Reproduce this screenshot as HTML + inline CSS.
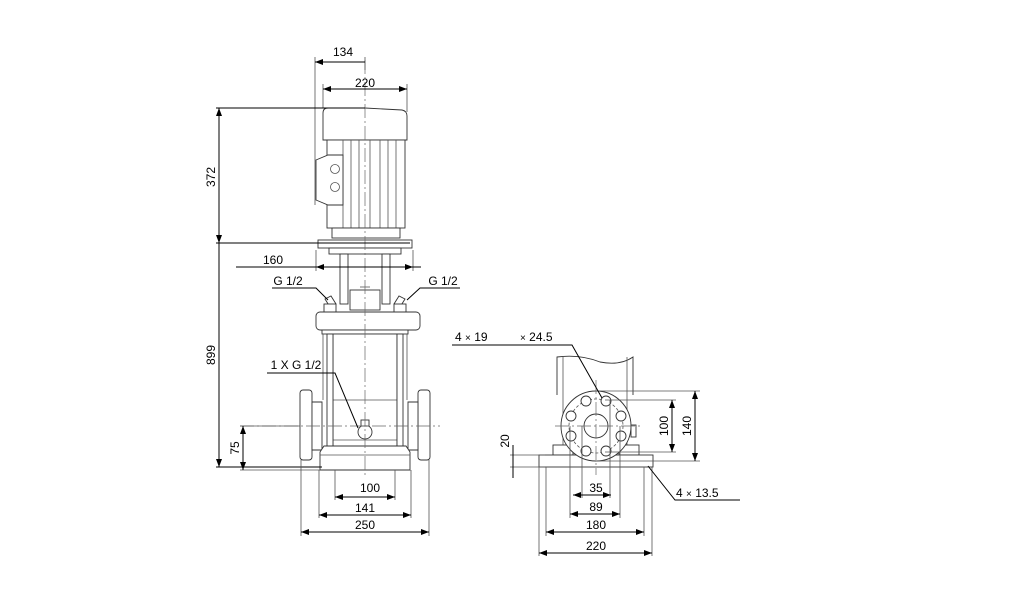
<!DOCTYPE html>
<html><head><meta charset="utf-8"><style>
html,body{margin:0;padding:0;background:#fff;}
svg{display:block;}
text{font-family:"Liberation Sans",Arial,sans-serif;font-size:12px;fill:#000;}
.l{stroke:#000;stroke-width:1;fill:none;}
.g{stroke:#555;stroke-width:0.8;fill:none;}
.p{stroke:#333;stroke-width:0.9;fill:#fff;}
.c{stroke:#666;stroke-width:0.7;fill:none;stroke-dasharray:14 3 2 3;}
</style></head><body>
<svg width="1034" height="611" viewBox="0 0 1034 611" xmlns="http://www.w3.org/2000/svg">
<defs>
<marker id="a" viewBox="0 0 8 6" refX="8" refY="3" markerWidth="8" markerHeight="6" orient="auto-start-reverse"><path d="M0,0L8,3L0,6z" fill="#000"/></marker>
</defs>

<!-- LEFT VIEW -->
<!-- motor -->
<path class="p" d="M323,113 Q323,108 328,108 L365,108 L402,110 Q407,111 407,116 L407,140 L323,140 Z"/>
<rect class="p" x="327" y="140" width="78" height="88"/>
<path class="g" d="M343,140V228 M351,140V228 M359,140V228 M370,140V228 M380,140V228 M388,140V228 M396,140V228"/>
<path class="p" d="M316,160 L328,155 L343,155 L343,205 L328,205 L316,200 Z"/>
<circle class="g" cx="335" cy="169" r="4.5"/><circle class="g" cx="335" cy="187" r="4.5"/>
<rect class="p" x="332" y="228" width="68" height="10"/>
<rect class="p" x="318" y="240" width="94" height="8"/>
<rect class="p" x="329" y="248" width="72" height="6"/>
<!-- coupling area -->
<rect class="p" x="340" y="254" width="8" height="50"/>
<rect class="p" x="382" y="254" width="8" height="50"/>
<rect class="p" x="350" y="290" width="30" height="20"/>
<path class="g" d="M360,287 h10"/>
<!-- valves -->
<path class="p" d="M325,299 l6,-3 l5,8 l-6,3z"/><path class="p" d="M405,299 l-6,-3 l-5,8 l6,3z"/>
<rect class="p" x="324" y="304" width="12" height="8"/><rect class="p" x="394" y="304" width="12" height="8"/>
<!-- head -->
<rect class="p" x="316" y="312" width="104" height="18" rx="4"/>
<rect class="p" x="322" y="330" width="86" height="4"/>
<!-- sleeve -->
<rect class="p" x="333" y="334" width="64" height="112"/>
<path class="g" d="M333,400 H397 M333,440 H397"/>
<rect class="p" x="327" y="334" width="6" height="112"/>
<rect class="p" x="397" y="334" width="6" height="112"/>
<path class="g" d="M323,334 V400 M407,334 V400"/>
<!-- flanges -->
<rect class="p" x="300" y="390" width="12" height="70" rx="3"/>
<path class="p" d="M312,402 H322 V450 H312 Z"/>
<rect class="p" x="418" y="390" width="12" height="70" rx="3"/>
<path class="p" d="M408,402 H418 V450 H408 Z"/>
<!-- base -->
<path class="p" d="M324,446 H406 L410,452 V470 H320 V452 Z"/>
<path class="g" d="M320,455 H410"/>
<circle class="p" cx="365" cy="432" r="7"/>
<rect class="p" x="361" y="420" width="8" height="6"/>
<!-- centerlines -->
<path class="c" d="M365,60 V475"/>
<path class="c" d="M240,426 H440"/>

<!-- dims left -->
<path class="g" d="M315,57 V205 M365,57 V70"/>
<path class="l" d="M315,62 H365" marker-start="url(#a)"/>
<text x="343" y="56" text-anchor="middle">134</text>
<path class="g" d="M323,84 V108 M407,84 V112"/>
<path class="l" d="M323,89 H407" marker-start="url(#a)" marker-end="url(#a)"/>
<text x="365" y="87" text-anchor="middle">220</text>
<path class="l" d="M216,108 H365 M216,243 H410 M216,467 H322"/>
<path class="l" d="M219,108 V243" marker-start="url(#a)" marker-end="url(#a)"/>
<path class="l" d="M219,243 V467" marker-end="url(#a)"/>
<text transform="translate(215,177) rotate(-90)" text-anchor="middle">372</text>
<text transform="translate(215,355) rotate(-90)" text-anchor="middle">899</text>
<path class="g" d="M316,250 V271 M413,250 V271"/>
<path class="l" d="M236,267 H421"/><path class="l" d="M316,267 H413" marker-start="url(#a)" marker-end="url(#a)"/>
<text x="273" y="264" text-anchor="middle">160</text>
<text x="288" y="285" text-anchor="middle">G 1/2</text>
<path class="l" d="M272,288 H316 L328,300"/>
<text x="443" y="285" text-anchor="middle">G 1/2</text>
<path class="l" d="M460,288 H420 L407,300"/>
<text x="296" y="369" text-anchor="middle">1 X G 1/2</text>
<path class="l" d="M267,373 H335 L358,428"/>
<path class="g" d="M240,426 H300 M240,470 H320"/>
<path class="l" d="M243,426 V470" marker-start="url(#a)" marker-end="url(#a)"/>
<text transform="translate(239,448) rotate(-90)" text-anchor="middle">75</text>
<path class="g" d="M335,470 V500 M395,470 V500 M319,470 V518 M411,470 V518 M301,460 V536 M429,460 V536"/>
<path class="l" d="M335,497 H395" marker-start="url(#a)" marker-end="url(#a)"/>
<text x="370" y="492" text-anchor="middle">100</text>
<path class="l" d="M319,515 H411" marker-start="url(#a)" marker-end="url(#a)"/>
<text x="365" y="512" text-anchor="middle">141</text>
<path class="l" d="M301,532 H429" marker-start="url(#a)" marker-end="url(#a)"/>
<text x="365" y="529" text-anchor="middle">250</text>

<!-- RIGHT VIEW -->
<path class="p" d="M557,395 V357 Q580,354 600,362 Q620,366 633,357 V395"/>
<path class="g" d="M563,357 V450 M627,357 V450"/>
<rect class="p" x="553" y="445" width="20" height="10"/>
<rect class="p" x="619" y="445" width="20" height="10"/>
<rect class="p" x="539" y="455" width="114" height="12"/>
<circle class="p" cx="596" cy="426" r="35"/>
<circle class="g" cx="596" cy="426" r="27" stroke-dasharray="3 2"/>
<circle class="p" cx="596" cy="426" r="12"/>
<g class="p">
<circle cx="606" cy="401" r="5"/><circle cx="586" cy="401" r="5"/>
<circle cx="571" cy="416" r="5"/><circle cx="621" cy="416" r="5"/>
<circle cx="571" cy="436" r="5"/><circle cx="621" cy="436" r="5"/>
<circle cx="586" cy="451" r="5"/><circle cx="606" cy="451" r="5"/>
</g>
<rect class="p" x="631" y="425" width="5" height="12"/>
<path class="c" d="M596,380 V475 M555,426 H640"/>
<!-- dims right -->
<path class="g" d="M596,391 H700 M605,400 H676 M596,461 H700 M605,452 H676"/>
<path class="l" d="M695,391 V461" marker-start="url(#a)" marker-end="url(#a)"/>
<path class="l" d="M672,400 V452" marker-start="url(#a)" marker-end="url(#a)"/>
<text transform="translate(691,426) rotate(-90)" text-anchor="middle">140</text>
<text transform="translate(668,426) rotate(-90)" text-anchor="middle">100</text>
<path class="g" d="M510,455 H545 M510,467 H545"/>
<path class="l" d="M513,445 V478"/>
<text transform="translate(509,441) rotate(-90)" text-anchor="middle">20</text>
<path class="g" d="M570,426 V518 M582,426 V498 M610,400 V498 M620,426 V518 M546,467 V536 M644,467 V536 M539,467 V556 M652,467 V556"/>
<path class="l" d="M573,495 H611" marker-start="url(#a)" marker-end="url(#a)"/>
<text x="596" y="492" text-anchor="middle">35</text>
<path class="l" d="M570,514 H620" marker-start="url(#a)" marker-end="url(#a)"/>
<text x="596" y="511" text-anchor="middle">89</text>
<path class="l" d="M546,532 H644" marker-start="url(#a)" marker-end="url(#a)"/>
<text x="596" y="529" text-anchor="middle">180</text>
<path class="l" d="M539,553 H652" marker-start="url(#a)" marker-end="url(#a)"/>
<text x="596" y="550" text-anchor="middle">220</text>
<text x="455" y="341">4 <tspan font-size="10">×</tspan> 19</text>
<text x="520" y="341"><tspan font-size="10">×</tspan> 24.5</text>
<path class="l" d="M452,345 H572 L602,398"/>
<text x="676" y="497">4 <tspan font-size="10">×</tspan> 13.5</text>
<path class="l" d="M740,500 H675 L648,466"/>
</svg>
</body></html>
